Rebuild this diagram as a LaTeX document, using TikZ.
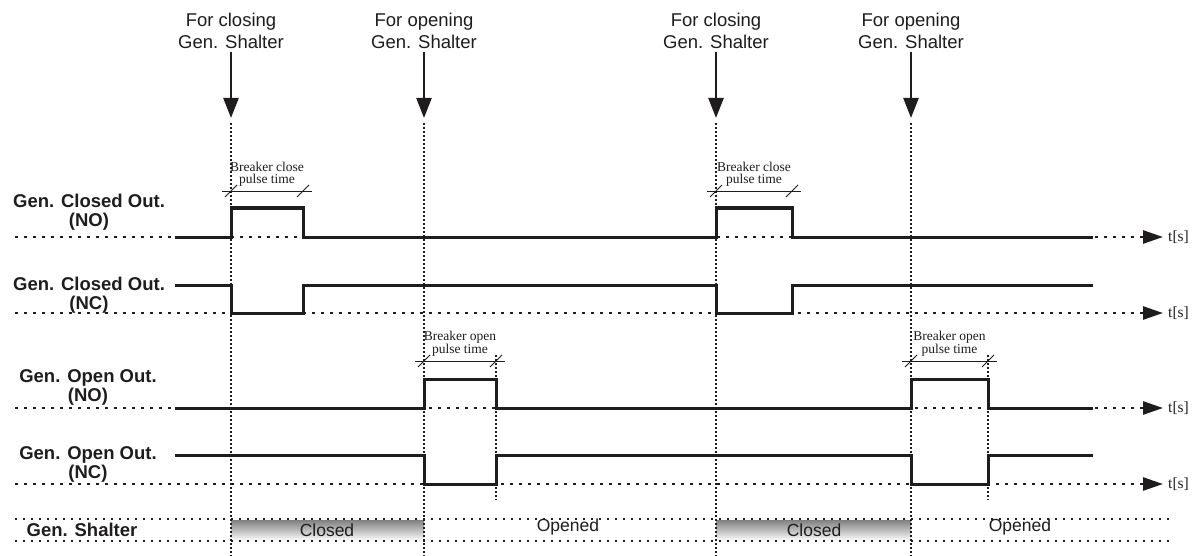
\documentclass[tikz,border=0pt]{standalone}
\usepackage{fontspec}
\setmainfont{Liberation Sans}
\newfontfamily\serifft{Liberation Serif}
\usetikzlibrary{arrows.meta}
\definecolor{ink}{RGB}{30,28,28}
\definecolor{shade}{RGB}{206,207,211}
\begin{document}
\begin{tikzpicture}[x=1pt,y=-1pt,
  sig/.style={ink,line width=3pt},
  basel/.style={ink,line width=2.6pt,dash pattern=on 2.6pt off 6.4pt},
  evline/.style={ink,line width=2.4pt,dash pattern=on 2pt off 2pt},
  rowlab/.style={font=\fontsize{18.5}{19}\selectfont\bfseries,align=center,text=ink,inner sep=0pt},
  evlab/.style={font=\fontsize{18.5}{22}\selectfont,align=center,text=ink,inner sep=0pt},
  statelab/.style={font=\fontsize{17.5}{19}\selectfont,text=ink,inner sep=0pt},
  dimtxt/.style={font=\serifft\fontsize{13.5}{12}\selectfont,align=center,text=ink,inner sep=0pt},
  tlab/.style={font=\serifft\fontsize{15.5}{15}\selectfont,text=ink,inner sep=0pt,anchor=west},
  evarrow/.style={ink,line width=2.4pt,-{Triangle[width=15pt,length=20pt]}},
  tarrow/.style={-{Triangle[width=13pt,length=20pt]}},
  dimline/.style={ink,line width=0.9pt},
  shelt/.style={ink,line width=2pt,dash pattern=on 2pt off 6pt},
]
\useasboundingbox (0,0) rectangle (1196,556);

% shelter state band
\fill[shade] (231,520) rectangle (424,541);
\fill[shade] (716,520) rectangle (911,541);
\draw[shelt] (15,519) -- (1172,519);
\draw[shelt] (15,541) -- (1172,541);
\node[rowlab] (shl) at (82,530) {Gen. Shalter};
\node[statelab] (s1) at (327,530) {Closed};
\node[statelab] (s2) at (568,527) {Opened};
\node[statelab] (s3) at (814,530) {Closed};
\node[statelab] (s4) at (1020,527) {Opened};

% event labels and arrows
\node[evlab] (e1) at (231,31) {For closing\\Gen. Shalter};
\node[evlab] (e2) at (424,31) {For opening\\Gen. Shalter};
\node[evlab] (e3) at (716,31) {For closing\\Gen. Shalter};
\node[evlab] (e4) at (911,31) {For opening\\Gen. Shalter};
\foreach \n/\x in {1/231,2/424,3/716,4/911}{
  \coordinate (tip\n) at (\x,118);
  \draw[evarrow,shorten <=3pt] (e\n.south) -- (tip\n);
  \draw[evline] (\x,123) -- (\x,556);
}
% open pulse end markers
\draw[evline] (496,355) -- (496,500);
\draw[evline] (988,355) -- (988,500);

% row labels
\node[rowlab] (r1) at (89,212) {Gen. Closed Out.\\(NO)};
\node[rowlab] (r2) at (89,295.5) {Gen. Closed Out.\\(NC)};
\node[rowlab] (r3) at (88,387) {Gen. Open Out.\\(NO)};
\node[rowlab] (r4) at (88,464.5) {Gen. Open Out.\\(NC)};

% time axes
\foreach \n/\y in {1/237,2/313,3/408,4/484}{
  \coordinate (ax\n) at (15,\y);
  \coordinate (at\n) at (1163,\y);
  \draw[basel,tarrow] (ax\n) -- (at\n);
  \node[tlab] (ts\n) at (1168,\y) {t[s]};
}

% waveforms
\draw[sig] (175,237) -- (231,237) -- (231,208) -- (303,208) -- (303,237) -- (716,237) -- (716,208) -- (792,208) -- (792,237) -- (1093,237);
\draw[sig] (175,285) -- (231,285) -- (231,313) -- (303,313) -- (303,285) -- (716,285) -- (716,313) -- (792,313) -- (792,285) -- (1093,285);
\draw[sig] (175,408) -- (424,408) -- (424,379) -- (496,379) -- (496,408) -- (911,408) -- (911,379) -- (988,379) -- (988,408) -- (1093,408);
\draw[sig] (175,455) -- (424,455) -- (424,484) -- (496,484) -- (496,455) -- (911,455) -- (911,484) -- (988,484) -- (988,455) -- (1093,455);

% pulse time dimensions
\foreach \a/\b/\y/\t in {231/303/191/close,716/792/191/close,424/496/361/open,911/988/361/open}{
  \draw[dimline] (\a-9,\y) -- (\b+9,\y);
  \draw[dimline] (\a-6,\y+6) -- (\a+6,\y-6);
  \draw[dimline] (\b-6,\y+6) -- (\b+6,\y-6);
  \node[dimtxt] at ({(\a+\b)/2},\y-17) {Breaker \t\\pulse time};
}
\end{tikzpicture}
\end{document}
